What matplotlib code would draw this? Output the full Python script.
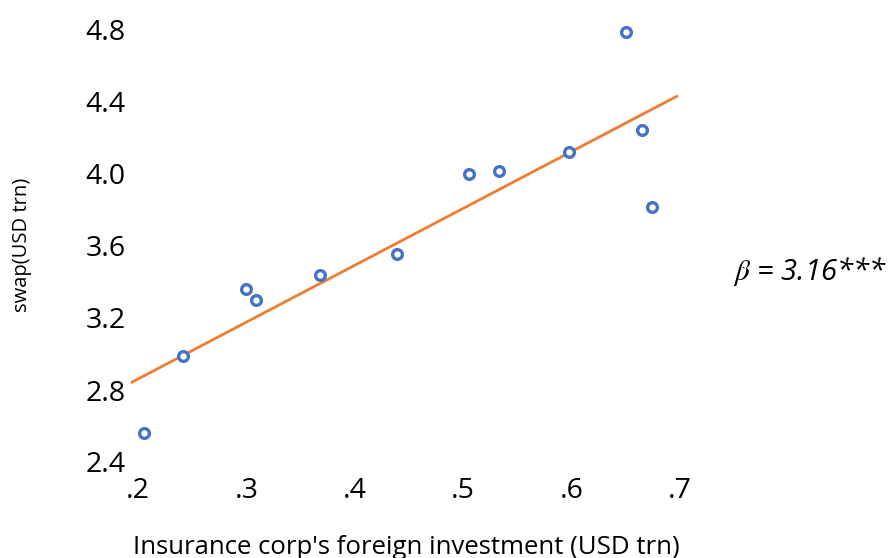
import matplotlib
matplotlib.use("Agg")
import matplotlib.pyplot as plt
import numpy as np

# Insurance corp foreign investment (USD trn) vs swap (USD trn)
invest = [0.2055, 0.2415, 0.2996, 0.3089, 0.368, 0.439, 0.505, 0.533, 0.598, 0.650, 0.665, 0.674]
swap = [2.561, 2.989, 3.361, 3.300, 3.439, 3.556, 4.000, 4.017, 4.122, 4.789, 4.244, 3.817]

# Fitted line: slope from the regression estimate
beta = 3.16
intercept = 2.229
fit_x = [0.1945, 0.697]

x_ticks = [0.2, 0.3, 0.4, 0.5, 0.6, 0.7]
x_ticklabels = [".2", ".3", ".4", ".5", ".6", ".7"]
y_ticks = [2.4, 2.8, 3.2, 3.6, 4.0, 4.4, 4.8]
y_ticklabels = ["2.4", "2.8", "3.2", "3.6", "4.0", "4.4", "4.8"]

plt.rcParams["font.family"] = ["Open Sans", "DejaVu Sans"]
plt.rcParams["mathtext.fontset"] = "stix"

fig = plt.figure(figsize=(8.93, 5.58), dpi=100)
ax = fig.add_axes([138 / 893, 96 / 558, 542 / 893, 432 / 558])

fx = np.array(fit_x)
ax.plot(fx, intercept + beta * fx, color="#ED7D31", lw=2.0, clip_on=False, zorder=2)
ax.plot(invest, swap, linestyle="none", marker="o", markersize=7,
        markerfacecolor="white", markeredgecolor="#4472C4", markeredgewidth=2.4,
        clip_on=False, zorder=3)

ax.set_xlim(0.2, 0.7)
ax.set_ylim(2.4, 4.8)
ax.set_xticks(x_ticks)
ax.set_xticklabels(x_ticklabels)
ax.set_yticks(y_ticks)
ax.set_yticklabels(y_ticklabels)
ax.tick_params(axis="both", length=0, labelsize=20.5, colors="black")
ax.tick_params(axis="x", pad=11)
ax.tick_params(axis="y", pad=9)
for s in ax.spines.values():
    s.set_visible(False)

fig.text(406 / 893, 1 - 547 / 558, "Insurance corp's foreign investment (USD trn)",
         fontsize=18.5, ha="center", va="center")
fig.text(22 / 893, 1 - 245 / 558, "swap(USD trn)", rotation=90, fontsize=14.5,
         ha="center", va="center")

fig.text(733 / 893, 1 - 272 / 558, r"$\beta$ = 3.16***", fontsize=21, style="italic",
         ha="left", va="center")

fig.savefig("out.png", dpi=100, facecolor="white")
